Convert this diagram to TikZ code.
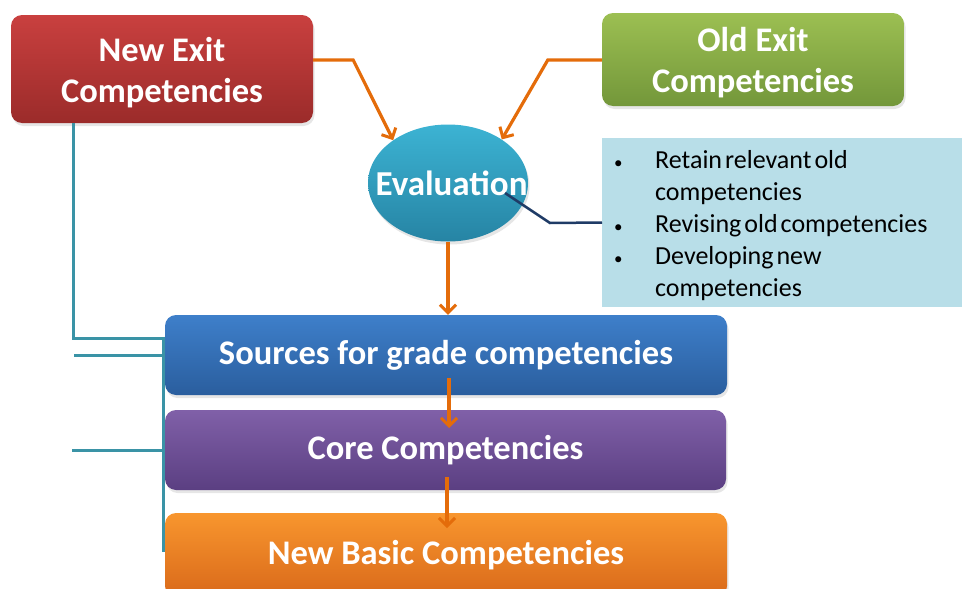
\documentclass[tikz,border=0pt]{standalone}
\usepackage{fontspec}
\setmainfont{Carlito}
\usetikzlibrary{shapes.geometric,arrows.meta,shadows}
\definecolor{redtop}{HTML}{C9403F}
\definecolor{redbot}{HTML}{9B2B2A}
\definecolor{greentop}{HTML}{9CBF52}
\definecolor{greenbot}{HTML}{73973A}
\definecolor{evaltop}{HTML}{3CB3D3}
\definecolor{evalbot}{HTML}{2684A4}
\definecolor{bluetop}{HTML}{3E7FCA}
\definecolor{bluebot}{HTML}{2A5E9E}
\definecolor{purptop}{HTML}{8060A8}
\definecolor{purpbot}{HTML}{5B3F82}
\definecolor{orantop}{HTML}{F8962E}
\definecolor{oranbot}{HTML}{D9691A}
\definecolor{lightbox}{HTML}{B8DEE8}
\definecolor{arroworange}{HTML}{E46C0A}
\definecolor{tealline}{HTML}{3A93A6}
\definecolor{navyline}{HTML}{1F3B66}
\newcommand{\smallbul}{{\fontsize{17}{17}\selectfont\textbullet}}
\begin{document}
\begin{tikzpicture}[x=1pt,y=-1pt,
  boxstyle/.style={rounded corners=11pt, inner sep=0pt, align=center,
    text=white, font=\fontsize{34.5}{41}\selectfont\bfseries,
    drop shadow={opacity=0.2, shadow xshift=1.5pt, shadow yshift=-3pt}},
  oarrow/.style={draw=arroworange, line width=3.2pt,
    -{Straight Barb[length=8pt,width=16pt,line width=3pt]}},
  tealconn/.style={draw=tealline, line width=3pt},
  navyconn/.style={draw=navyline, line width=2.5pt}]
\useasboundingbox (0,0) rectangle (962,589);
% top boxes
\node[boxstyle, top color=redtop, bottom color=redbot,
  minimum width=302pt, minimum height=108pt] (newexit) at (162,69)
  {\begin{tabular}{@{}c@{}}\rule{0pt}{38pt}New Exit\\Competencies\end{tabular}};
\node[boxstyle, top color=greentop, bottom color=greenbot,
  minimum width=302pt, minimum height=93pt] (oldexit) at (753,59.5)
  {\begin{tabular}{@{}c@{}}\rule{0pt}{38pt}Old Exit\\Competencies\end{tabular}};
% evaluation
\node[ellipse, top color=evaltop, bottom color=evalbot,
  minimum width=160pt, minimum height=117pt, inner sep=0pt,
  drop shadow={opacity=0.2, shadow xshift=1.5pt, shadow yshift=-3pt}]
  (eval) at (448,183) {};
\node[text=white, font=\fontsize{35}{40}\selectfont\bfseries, inner sep=0pt]
  (evaltext) at (451.5,183.5) {Evaluation};
% bullet box
\node[fill=lightbox, minimum width=360pt, minimum height=165pt,
  inner sep=0pt, anchor=west, text width=348pt, inner xsep=12pt, align=left,
  font=\fontsize{26}{32}\selectfont] (bullets) at (602,222.5)
  {\spaceskip=3pt plus 1pt\begin{tabular}{@{}p{41pt}@{}l@{}}
   \rule{0pt}{30.5pt}\smallbul & Retain relevant old\\
             & competencies\\
   \smallbul & Revising old competencies\\
   \smallbul & Developing new\\
             & competencies
   \end{tabular}};
% lower boxes
\node[boxstyle, top color=bluetop, bottom color=bluebot,
  minimum width=562pt, minimum height=80pt] (sources) at (446,355)
  {Sources for grade competencies};
\node[boxstyle, top color=purptop, bottom color=purpbot,
  minimum width=561pt, minimum height=80pt] (core) at (445.5,450)
  {Core Competencies};
\node[boxstyle, top color=orantop, bottom color=oranbot,
  minimum width=562pt, minimum height=84pt] (basic) at (446,555)
  {New Basic Competencies};
% free ends
\coordinate (lfree1) at (74,355);
\coordinate (lfree2) at (72,450);
% orange arrows
\draw[oarrow] ([yshift=9pt]newexit.east) -- ++(40,0) -- (eval.142);
\draw[oarrow] ([yshift=-0.5pt]oldexit.west) -- ++(-54,0) -- (eval.39);
\draw[oarrow] (eval.south) -- (eval.south |- sources.north);
\draw[oarrow] ([xshift=3pt,yshift=-23pt]sources.center) -- ([xshift=3.5pt,yshift=22pt]core.center);
\draw[oarrow] ([xshift=1.5pt,yshift=-27pt]core.center) -- ([xshift=1pt,yshift=27pt]basic.center);
% navy connector
\draw[navyconn] ([xshift=57pt,yshift=-10pt]eval.center) -- ++(45,30) -- (bullets.west);
% teal connectors
\draw[tealconn] ([xshift=-89pt]newexit.south) |- ([yshift=17pt]sources.west);
\draw[tealconn] (lfree1) -- (sources.west);
\draw[tealconn] (lfree2) -- (core.west);
\draw[tealconn] ([xshift=-1pt,yshift=18.5pt]sources.west) -- ([xshift=-1pt,yshift=3pt]basic.west);
\end{tikzpicture}
\end{document}
